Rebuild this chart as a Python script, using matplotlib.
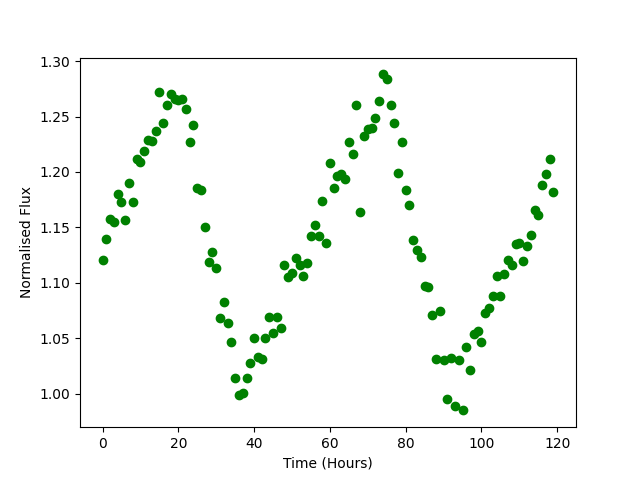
import matplotlib
matplotlib.use("Agg")
import matplotlib.pyplot as plt
import numpy as np

time_hours = np.arange(120)
flux = [
    1.121, 1.140, 1.158, 1.155, 1.180, 1.173, 1.157, 1.190, 1.173, 1.212,
    1.209, 1.219, 1.229, 1.228, 1.237, 1.272, 1.244, 1.260, 1.270, 1.266,
    1.265, 1.266, 1.257, 1.227, 1.242, 1.186, 1.184, 1.150, 1.119, 1.128,
    1.113, 1.068, 1.083, 1.064, 1.047, 1.014, 0.999, 1.001, 1.014, 1.028,
    1.050, 1.033, 1.031, 1.050, 1.069, 1.055, 1.069, 1.059, 1.116, 1.105,
    1.109, 1.122, 1.116, 1.106, 1.118, 1.142, 1.152, 1.142, 1.174, 1.136,
    1.208, 1.186, 1.196, 1.198, 1.194, 1.227, 1.216, 1.260, 1.164, 1.232,
    1.239, 1.240, 1.249, 1.264, 1.288, 1.284, 1.260, 1.244, 1.199, 1.227,
    1.184, 1.170, 1.139, 1.130, 1.123, 1.097, 1.096, 1.071, 1.031, 1.075,
    1.030, 0.995, 1.032, 0.989, 1.030, 0.985, 1.042, 1.021, 1.054, 1.057,
    1.047, 1.073, 1.077, 1.088, 1.106, 1.088, 1.108, 1.121, 1.116, 1.135,
    1.136, 1.120, 1.133, 1.143, 1.166, 1.161, 1.188, 1.198, 1.212, 1.182,
]

fig, ax = plt.subplots(figsize=(6.4, 4.8), dpi=100)
ax.plot(time_hours, flux, 'go')
ax.set_xlabel('Time (Hours)')
ax.set_ylabel('Normalised Flux')
fig.savefig('out.png')
